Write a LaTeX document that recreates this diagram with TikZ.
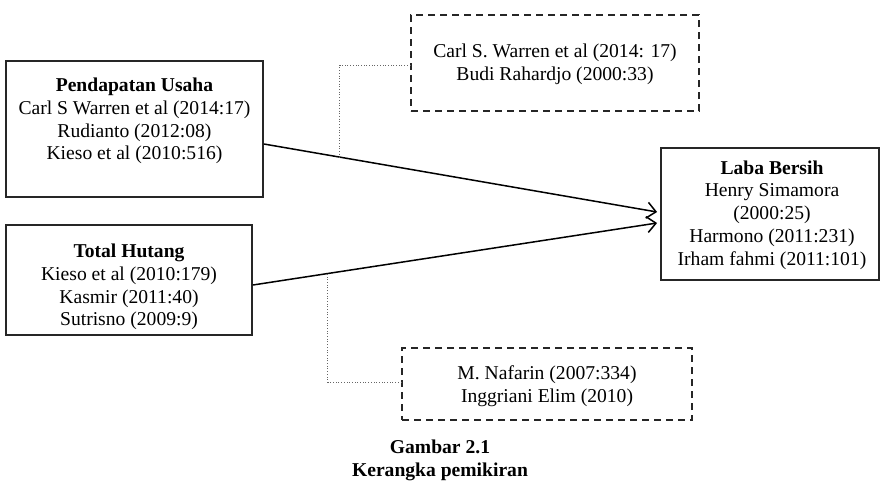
\documentclass[tikz,border=0pt]{standalone}
\usepackage{fontspec}
\setmainfont{Liberation Serif}
\usetikzlibrary{arrows.meta}
\begin{document}
\begin{tikzpicture}[x=1pt,y=-1pt,
  solidbox/.style={draw=black!85,line width=1.8pt,inner sep=0pt},
  dashbox/.style={draw=black!85,line width=1.6pt,dash pattern=on 7pt off 5pt,inner sep=0pt},
  txt/.style={align=center,inner sep=0pt,font=\fontsize{19.6}{22.8}\selectfont},
  link/.style={line width=1.5pt,-{Straight Barb[length=9pt,width=16pt,line width=1.5pt]}},
  dotlink/.style={draw=black!60,line width=0.7pt,dotted}]
\useasboundingbox (0,0) rectangle (881,482);
% left boxes
\node[solidbox,minimum width=257pt,minimum height=136pt] (b1) at (134.5,129) {};
\node[txt] (t1) at (134.5,121) {\textbf{Pendapatan Usaha}\\Carl S Warren et al (2014:17)\\Rudianto (2012:08)\\Kieso et al (2010:516)};
\node[solidbox,minimum width=246pt,minimum height=110pt] (b2) at (129,280) {};
\node[txt] (t2) at (129,287) {\textbf{Total Hutang}\\Kieso et al (2010:179)\\Kasmir (2011:40)\\Sutrisno (2009:9)};
% right box
\node[solidbox,minimum width=218pt,minimum height=132pt] (lb) at (770,214) {};
\node[txt] (tl) at (772,215) {\textbf{Laba Bersih}\\Henry Simamora\\(2000:25)\\Harmono (2011:231)\\Irham fahmi (2011:101)};
% dashed boxes
\node[dashbox,minimum width=288pt,minimum height=96pt] (r1) at (555,63) {};
\node[txt] (tr1) at (555,64) {Carl S. Warren et al (2014: 17)\\Budi Rahardjo (2000:33)};
\node[dashbox,minimum width=290pt,minimum height=72pt] (r2) at (547,384) {};
\node[txt] (tr2) at (547,386) {M. Nafarin (2007:334)\\Inggriani Elim (2010)};
% connectors
\draw[link] ([yshift=-15pt]b1.east) -- coordinate[pos=0.193] (m1) ([xshift=-3pt,yshift=2pt]lb.west);
\draw[link] ([yshift=-5pt]b2.east) -- coordinate[pos=0.185] (m2) ([xshift=-3pt,yshift=-9pt]lb.west);
\draw[dotlink] ([yshift=-2pt]r1.west) -| (m1);
\draw[dotlink] ([yshift=2pt]r2.west) -| (m2);
% caption
\node[txt,font=\fontsize{19.6}{23}\selectfont\bfseries] (cap) at (440,460) {Gambar 2.1\\Kerangka pemikiran};
\end{tikzpicture}
\end{document}
